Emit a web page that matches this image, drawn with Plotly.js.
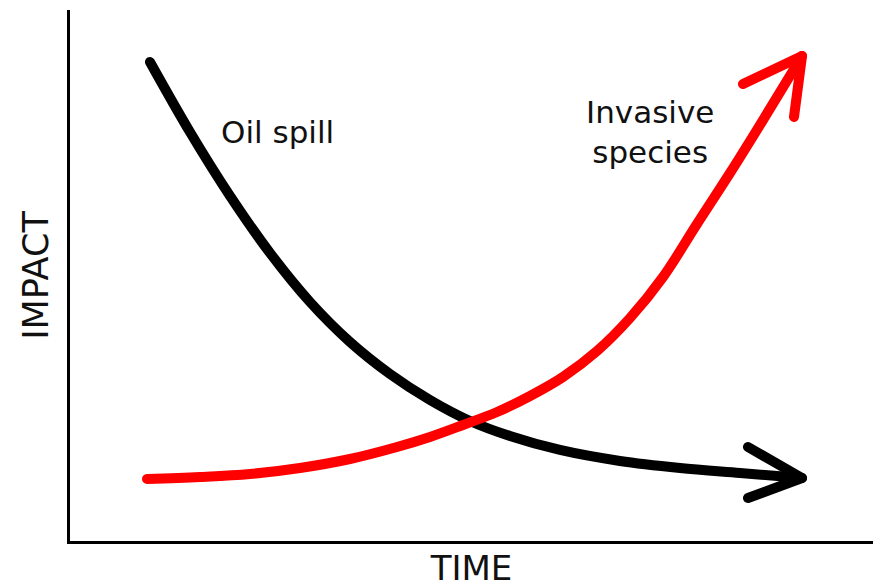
<!DOCTYPE html>
<html>
<head>
<meta charset="utf-8">
<script src="https://cdn.plot.ly/plotly-3.0.1.min.js"></script>
<style>
  html, body { margin: 0; padding: 0; background: #fff; }
  #chart { width: 873px; height: 588px; }
  path.js-line { stroke-linecap: round !important; stroke-linejoin: round !important; }
</style>
</head>
<body>
<div id="chart"></div>
<script>
// Conceptual curves (arbitrary units: time 0-100, impact 0-100)
var oilTime   = [9.96, 14.94, 19.93, 24.91, 29.89, 34.87, 39.85, 44.83, 49.81, 54.79, 61.02, 68.49, 75.97, 83.44, 91.16];
var oilImpact = [90.21, 77.02, 64.97, 54.24, 45.01, 37.48, 31.45, 26.55, 22.60, 19.77, 17.14, 15.07, 13.75, 12.81, 11.86];

var invTime   = [9.59, 16.19, 22.42, 28.64, 34.87, 40.72, 44.83, 48.94, 53.18, 57.29, 61.39, 65.63, 69.74, 73.85, 78.08, 82.19, 86.30, 91.16];
var invImpact = [11.68, 12.05, 12.62, 13.75, 15.44, 17.70, 19.59, 21.85, 24.29, 27.31, 30.89, 35.78, 42.00, 49.72, 59.70, 69.30, 79.28, 91.34];

// Arrowhead barbs: [barb end, tip, barb end]
var oilHeadTime   = [84.43, 91.16, 84.43];
var oilHeadImpact = [17.70, 11.86, 8.10];
var invHeadTime   = [83.81, 91.16, 90.16];
var invHeadImpact = [86.06, 91.34, 79.85];

var labelOil = "Oil spill";
var labelInv = "Invasive<br>species";

var traces = [
  { x: oilTime, y: oilImpact, mode: 'lines', line: { color: '#000000', width: 10, shape: 'spline', smoothing: 1 }, hoverinfo: 'skip' },
  { x: oilHeadTime, y: oilHeadImpact, mode: 'lines', line: { color: '#000000', width: 10 }, hoverinfo: 'skip' },
  { x: invTime, y: invImpact, mode: 'lines', line: { color: '#ff0000', width: 10, shape: 'spline', smoothing: 1 }, hoverinfo: 'skip' },
  { x: invHeadTime, y: invHeadImpact, mode: 'lines', line: { color: '#ff0000', width: 10 }, hoverinfo: 'skip' }
];

var font = "DejaVu Sans, Liberation Sans, Arial, sans-serif";

var layout = {
  width: 873, height: 588,
  margin: { l: 70, r: 0, t: 10, b: 47 },
  paper_bgcolor: '#ffffff', plot_bgcolor: '#ffffff',
  showlegend: false,
  xaxis: {
    range: [0, 100], showgrid: false, zeroline: false, showticklabels: false, ticks: '',
    showline: true, linecolor: '#000000', linewidth: 3,
    title: { text: 'TIME', font: { family: font, size: 34, color: '#111111' }, standoff: 21 }
  },
  yaxis: {
    range: [0, 100], showgrid: false, zeroline: false, showticklabels: false, ticks: '',
    showline: true, linecolor: '#000000', linewidth: 3,
    title: { text: 'IMPACT', font: { family: font, size: 35, color: '#111111' }, standoff: 8 }
  },
  annotations: [
    { x: 25.9, y: 77.0, xref: 'x', yref: 'y', text: labelOil, showarrow: false,
      font: { family: font, size: 31, color: '#111111' }, xanchor: 'center', yanchor: 'middle' },
    { x: 72.2, y: 77.0, xref: 'x', yref: 'y', text: labelInv, showarrow: false,
      font: { family: font, size: 31, color: '#111111' }, xanchor: 'center', yanchor: 'middle' }
  ]
};

Plotly.newPlot('chart', traces, layout, { staticPlot: true, displayModeBar: false });
</script>
</body>
</html>
